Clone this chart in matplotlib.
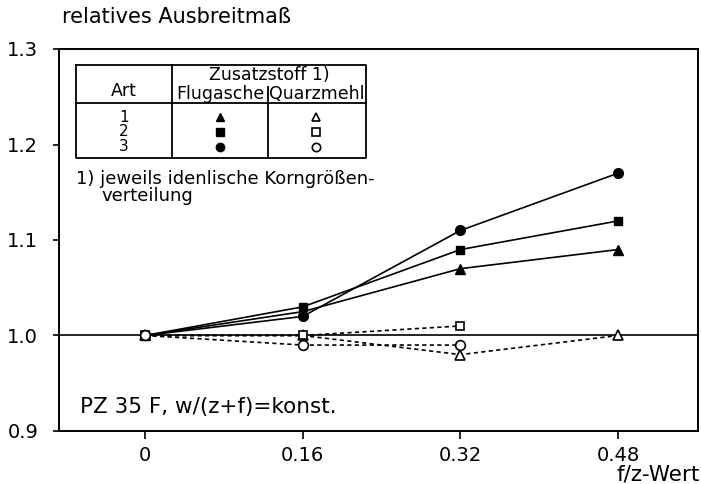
import matplotlib.pyplot as plt
from matplotlib.lines import Line2D

# f/z values and relative spread (relatives Ausbreitmass)
fz = [0, 0.16, 0.32, 0.48]
flug_1 = [1.0, 1.025, 1.07, 1.09]
flug_2 = [1.0, 1.03, 1.09, 1.12]
flug_3 = [1.0, 1.02, 1.11, 1.17]
fz_q = [0, 0.16, 0.32]
quarz_1 = [1.0, 1.0, 0.98, 1.0]
quarz_2 = [1.0, 1.0, 1.01]
quarz_3 = [1.0, 0.99, 0.99]
xticks = [0, 0.16, 0.32, 0.48]
xticklabels = ['0', '0.16', '0.32', '0.48']
yticks = [0.9, 1.0, 1.1, 1.2, 1.3]

W, H = 701, 484
fig = plt.figure(figsize=(W / 100, H / 100), dpi=100)
ax = fig.add_axes([59 / W, 1 - 431 / H, (698 - 59) / W, (431 - 49) / H])

ax.axhline(1.0, color='black', lw=1.2, zorder=1)
ms = 7
ax.plot(fz, flug_1, color='black', lw=1.2, marker='^', ms=ms)
ax.plot(fz, flug_2, color='black', lw=1.2, marker='s', ms=ms - 1)
ax.plot(fz, flug_3, color='black', lw=1.2, marker='o', ms=ms)
dash = dict(color='black', lw=1.2, ls=(0, (2.5, 2)), mfc='white', mec='black', mew=1.2)
ax.plot(fz, quarz_1, marker='^', ms=ms, **dash)
ax.plot(fz_q, quarz_2, marker='s', ms=ms - 1, **dash)
ax.plot(fz_q, quarz_3, marker='o', ms=ms, **dash)

ax.set_xlim(-0.0873, 0.561)
ax.set_ylim(0.9, 1.3)
ax.set_xticks(xticks)
ax.set_xticklabels(xticklabels)
ax.set_yticks(yticks)
ax.set_yticklabels([f'{v:.1f}' for v in yticks])
ax.tick_params(direction='out', width=1.2, labelsize=14, color='black')
ax.tick_params(axis='y', length=4, pad=11)
ax.tick_params(axis='x', length=6, pad=5)
for s in ax.spines.values():
    s.set_linewidth(1.4)

fig.text(62 / W, 1 - 17 / H, 'relatives Ausbreitmaß', fontsize=15, va='center', ha='left')
fig.text(700 / W, 1 - 474 / H, 'f/z-Wert', fontsize=15.5, va='center', ha='right')
fig.text(80 / W, 1 - 407 / H, 'PZ 35 F, w/(z+f)=konst.', fontsize=15.5, va='center', ha='left')


def fx(px):
    return px / W


def fy(py):
    return 1 - py / H


def line(xs, ys, **kw):
    fig.add_artist(Line2D([fx(x) for x in xs], [fy(y) for y in ys],
                          transform=fig.transFigure, color='black', lw=1.3, **kw))


# inset table
line([76, 366, 366, 76, 76], [65, 65, 158, 158, 65])
line([76, 366], [103, 103])
line([172, 172], [65, 158])
line([268, 268], [87, 158])
fsz = 12.5
fig.text(fx(124), fy(91), 'Art', fontsize=fsz, ha='center', va='center')
fig.text(fx(269), fy(75), 'Zusatzstoff 1)', fontsize=fsz, ha='center', va='center')
fig.text(fx(220), fy(94), 'Flugasche', fontsize=fsz, ha='center', va='center')
fig.text(fx(317), fy(94), 'Quarzmehl', fontsize=fsz, ha='center', va='center')
rows = [117, 132, 147]
markers = ['^', 's', 'o']
for r, lab, m in zip(rows, ['1', '2', '3'], markers):
    fig.text(fx(124), fy(r), lab, fontsize=11, ha='center', va='center')
    line([220], [r], marker=m, ms=6, ls='none')
    line([316], [r], marker=m, ms=6, ls='none', mfc='white', mew=1.2)

fig.text(fx(76), fy(179), '1) jeweils idenlische Korngrößen-', fontsize=13, ha='left', va='center')
fig.text(fx(101), fy(196), 'verteilung', fontsize=13, ha='left', va='center')

fig.savefig('out.png', dpi=100)
